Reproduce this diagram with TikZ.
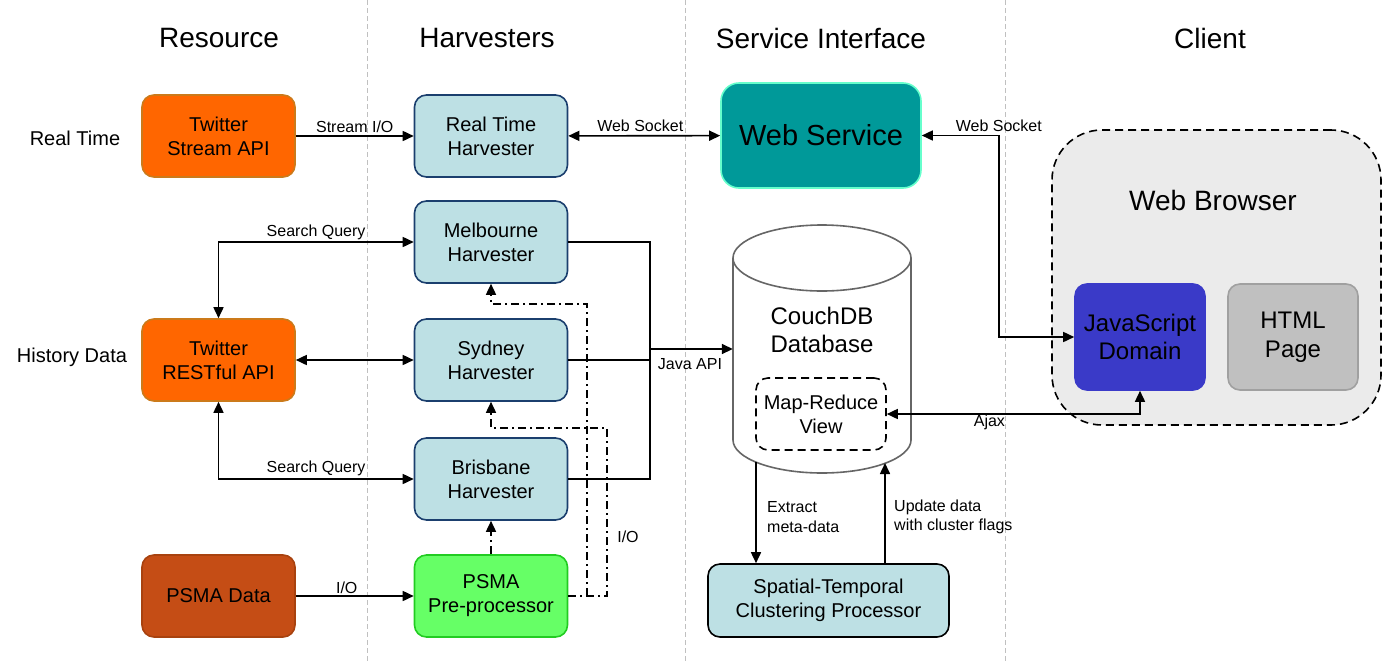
\documentclass[tikz,border=0pt]{standalone}
\usepackage{fontspec}
\setmainfont{Liberation Sans}
\usetikzlibrary{arrows.meta}
\definecolor{orfill}{HTML}{FF6600}
\definecolor{ordraw}{HTML}{CC7A1A}
\definecolor{hvfill}{HTML}{BDE0E4}
\definecolor{hvdraw}{HTML}{1B3F6E}
\definecolor{wsfill}{HTML}{009999}
\definecolor{wsdraw}{HTML}{66FFCC}
\definecolor{grfill}{HTML}{66FF66}
\definecolor{grdraw}{HTML}{22CC22}
\definecolor{psfill}{HTML}{C54D15}
\definecolor{psdraw}{HTML}{A8420F}
\definecolor{jsfill}{HTML}{3A3AC8}
\definecolor{htfill}{HTML}{C0C0C0}
\definecolor{htdraw}{HTML}{A0A0A0}
\definecolor{wbfill}{HTML}{EBEBEB}
\definecolor{dbdraw}{HTML}{666666}
\definecolor{sepgray}{HTML}{C0C0C0}
\tikzset{
  fs/.code={\pgfmathsetmacro\fsb{#1*1.2}\tikzset{font/.expanded={\noexpand\fontsize{#1}{\fsb}\noexpand\selectfont}}},
  box/.style={rounded corners=12pt, line width=1.6pt, minimum width=153pt, minimum height=82pt, align=center, inner sep=0pt, fs=20},
  orbox/.style={box, fill=orfill, draw=ordraw},
  hvbox/.style={box, fill=hvfill, draw=hvdraw},
  conn/.style={line width=1.6pt, -{Triangle[length=11pt,width=10pt]}},
  dconn/.style={line width=1.6pt, {Triangle[length=11pt,width=10pt]}-{Triangle[length=11pt,width=10pt]}},
  ddot/.style={line width=1.6pt, dash pattern=on 8pt off 4pt on 2pt off 4pt},
  longdash/.style={line width=1.6pt, dash pattern=on 8pt off 5pt},
  lbl/.style={fs=16, inner sep=1pt},
  head/.style={fs=28},
}
\begin{document}
\begin{tikzpicture}[x=1pt,y=-1pt]
\useasboundingbox (0,0) rectangle (1383,662);
\fill[white] (0,0) rectangle (1383,662);
% separators
\foreach \xx in {367,685,1005} \draw[sepgray, line width=0.8pt, dash pattern=on 5pt off 3pt] (\xx,0) -- (\xx,662);
% headings
\node[head] (h1) at (219,38) {Resource};
\node[head] (h2) at (487,38) {Harvesters};
\node[head] (h3) at (821,38) {Service Interface};
\node[head] (h4) at (1210,38) {Client};
\node[fs=20] (r1) at (75,138) {Real Time};
\node[fs=20] (r2) at (72,357) {History Data};
% web browser
\node[draw, longdash, fill=wbfill, rounded corners=50pt, minimum width=329pt, minimum height=295pt, inner sep=0pt] (wb) at (1216.5,277.5) {};
\node[fs=28] (wbt) at (1213,200) {Web Browser};
\node[box, fill=jsfill, draw=jsfill, minimum width=130pt, minimum height=106pt, fs=24] (js) at (1140,337) {JavaScript\\Domain};
\node[box, fill=htfill, draw=htdraw, minimum width=130pt, minimum height=106pt, fs=24] (ht) at (1293,337) {HTML\\Page};
% resources
\node[orbox] (tsa) at (218.5,136) {Twitter\\Stream API};
\node[orbox] (rest) at (218.5,360) {Twitter\\RESTful API};
\node[box, fill=psfill, draw=psdraw] (psd) at (218.5,596) {PSMA Data};
% harvesters
\node[hvbox] (rth) at (491,136) {Real Time\\Harvester};
\node[hvbox] (melb) at (491,242) {Melbourne\\Harvester};
\node[hvbox] (syd) at (491,360) {Sydney\\Harvester};
\node[hvbox] (bris) at (491,479) {Brisbane\\Harvester};
\node[box, fill=grfill, draw=grdraw] (psma) at (491,596) {PSMA\\Pre-processor};
% web service
\node[box, fill=wsfill, draw=wsdraw, rounded corners=18pt, minimum width=200pt, minimum height=105pt, fs=29] (ws) at (821,135.5) {Web Service};
% database cylinder
\filldraw[fill=white, draw=dbdraw, line width=1.6pt] (733,258) -- (733,440) arc[start angle=180, end angle=0, x radius=89, y radius=33] -- (911,258);
\filldraw[fill=white, draw=dbdraw, line width=1.6pt] (822,258) ellipse[x radius=89, y radius=33];
\node[minimum width=178pt, minimum height=247pt, inner sep=0pt] (db) at (822,348.5) {};
\node[fs=24, align=center] (dbt) at (822,330) {CouchDB\\Database};
\node[draw, longdash, rounded corners=12pt, minimum width=130pt, minimum height=72pt, inner sep=0pt, align=center, fs=20] (mr) at (821,414) {Map-Reduce\\View};
% spatial
\node[hvbox, draw=black, minimum width=241pt, minimum height=73pt] (stc) at (828.5,600.5) {Spatial-Temporal\\Clustering Processor};
% connectors
\draw[conn] (tsa) -- node[lbl, above, yshift=2pt] {Stream I/O} (rth);
\draw[dconn] (rth) -- node[lbl, above, xshift=-4pt, yshift=2pt] {Web Socket} (ws);
\draw[dconn] (ws.east) -- ++(77,0) node[lbl, above, pos=1, yshift=2pt] {Web Socket} |- (js.west);
\draw[dconn] (rest.north) |- node[lbl, above, pos=0.75] {Search Query} (melb.west);
\draw[dconn] (rest.south) |- node[lbl, above, pos=0.75, yshift=1pt] {Search Query} (bris.west);
\draw[dconn] (rest) -- (syd);
\draw[conn] (psd) -- node[lbl, above, xshift=-8pt, yshift=1pt] {I/O} (psma);
\coordinate (j) at (650,349);
\draw[line width=1.6pt] (melb.east) -| (j) |- (bris.east);
\draw[line width=1.6pt] (syd.east) -| (j);
\draw[conn] (j) -- (j -| db.west);
\node[lbl] (jav) at (690,364) {Java API};
\draw[dconn] (js.south) |- node[lbl, below, pos=0.75, xshift=-24pt, yshift=1pt] {Ajax} (mr.east);
% dash-dot
\coordinate (d1) at (607,428);
\coordinate (d2) at (587,596);
\coordinate (d3) at (587,304);
\draw[ddot, -{Triangle[length=11pt,width=10pt]}] (psma.east) -| (d1) -| (syd.south);
\draw[ddot, -{Triangle[length=11pt,width=10pt]}] (d2) -- (d3) -| (melb.south);
\draw[ddot, -{Triangle[length=11pt,width=10pt]}] (psma.north) -- (bris.south);
\node[lbl] (io2) at (628,537) {I/O};
% extract / update
\coordinate (e1) at (756,462);
\coordinate (u1) at (885,463);
\draw[conn] (e1) -- (e1 |- stc.north);
\draw[conn] (u1 |- stc.north) -- (u1);
\node[lbl, align=left, anchor=west] (ext) at (766,517) {Extract\\meta-data};
\node[lbl, align=left, anchor=west] (upd) at (893,517) {Update data\\with cluster flags};
\end{tikzpicture}
\end{document}
